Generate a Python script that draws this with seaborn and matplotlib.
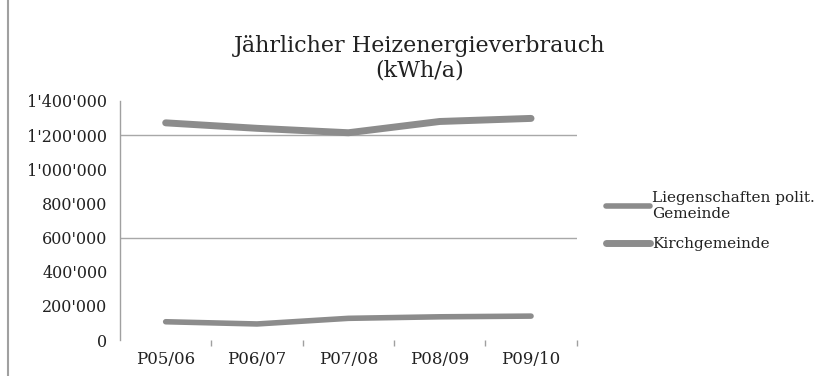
import matplotlib
matplotlib.use("Agg")
import matplotlib.pyplot as plt
import matplotlib.ticker as mticker
from matplotlib.lines import Line2D
import seaborn as sns
import pandas as pd

categories = ["P05/06", "P06/07", "P07/08", "P08/09", "P09/10"]
series_names = ["Liegenschaften polit.\nGemeinde", "Kirchgemeinde"]
liegenschaften = [107000, 94000, 127000, 136000, 140000]
kirchgemeinde = [1272000, 1240000, 1214000, 1280000, 1298000]
title = "Jährlicher Heizenergieverbrauch\n(kWh/a)"

sns.set_theme(style="white")
plt.rcParams["font.family"] = ["DejaVu Serif", "Liberation Serif"]

df = pd.DataFrame({
    "Periode": categories * 2,
    "x": list(range(len(categories))) * 2,
    "Wert": liegenschaften + kirchgemeinde,
    "Serie": [series_names[0]] * 5 + [series_names[1]] * 5,
})

fig = plt.figure(figsize=(8.31, 3.76), dpi=100)
ax = fig.add_axes([0.1444, 0.0957, 0.694 - 0.1444, 0.7314 - 0.0957])

gray = "#8c8c8c"
widths = {series_names[0]: 4.0, series_names[1]: 5.0}
for name in series_names:
    sub = df[df["Serie"] == name]
    sns.lineplot(data=sub, x="x", y="Wert", ax=ax, color=gray,
                 linewidth=widths[name], legend=False)

ax.set_xlim(-0.5, len(categories) - 0.5)
ax.set_ylim(0, 1400000)
ax.set_xlabel("")
ax.set_ylabel("")

ax.set_yticks(range(0, 1400001, 200000))
ax.yaxis.set_major_formatter(mticker.FuncFormatter(lambda v, p: f"{int(v):,}".replace(",", "'")))
for yv in (600000, 1200000):
    ax.axhline(yv, color="#a8a8a8", linewidth=1.0, zorder=0)

ax.set_xticks(range(len(categories)))
ax.set_xticklabels(categories)
ax.set_xticks([i + 0.5 for i in range(len(categories))], minor=True)
ax.tick_params(axis="x", which="major", length=0, pad=8, labelsize=12, labelcolor="#222222")
ax.tick_params(axis="x", which="minor", length=4, color="#a0a0a0", bottom=True)
ax.tick_params(axis="y", which="major", length=0, pad=9, labelsize=11.5, labelcolor="#222222")

for s in ("top", "right", "bottom"):
    ax.spines[s].set_visible(False)
ax.spines["left"].set_color("#a0a0a0")
ax.spines["left"].set_linewidth(1.0)

fig.text(0.505, 0.845, title, ha="center", va="center", fontsize=16,
         linespacing=1.2, color="#222222")

handles = [Line2D([0], [0], color=gray, linewidth=widths[n]) for n in series_names]
fig.legend(handles, series_names, loc="upper left", bbox_to_anchor=(0.722, 0.508),
           frameon=False, fontsize=11, handlelength=2.9, handletextpad=0.12,
           labelspacing=1.05, borderaxespad=0, labelcolor="#222222")

fig.add_artist(Line2D([0.0096, 0.0096], [0, 1], transform=fig.transFigure,
                      color="#a0a0a0", linewidth=1.5))

fig.savefig("out.png", dpi=100)
